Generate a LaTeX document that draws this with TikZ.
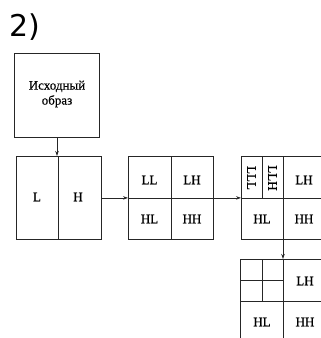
\documentclass[tikz,border=0pt]{standalone}
\usepackage{fontspec}
\setmainfont{Liberation Serif}
\newfontfamily\scanserif[FakeBold=0.6]{Liberation Serif}
\newfontfamily\labelsans{DejaVu Sans}
\usetikzlibrary{arrows.meta}
\begin{document}
\begin{tikzpicture}[x=1pt,y=-1pt,
  blk/.style={draw=black!85,line width=0.8pt,minimum width=85pt,minimum height=83pt,inner sep=0pt,anchor=north west},
  grid/.style={draw=black!85,line width=0.8pt},
  lab/.style={font=\scanserif\fontsize{13}{13}\selectfont,inner sep=0pt},
  conn/.style={draw=black!85,line width=0.8pt,-{Stealth[length=5pt,width=3.5pt]}}]
\useasboundingbox (0,0) rectangle (321,338);
\clip (0,0) rectangle (321,338);

\node[anchor=west,inner sep=0pt,font=\labelsans\fontsize{30}{30}\selectfont] (title) at (9,27) {2)};

% source image
\node[blk,minimum height=84pt] (src) at (14,53) {};
\node[lab,align=center] (srctxt) at (57,94) {Исходный\\[2pt]образ};

% first level: L | H
\node[blk] (b2) at (16,156) {};
\draw[grid] (58,156) -- (58,239);
\node[lab] (l) at (37,197) {L};
\node[lab] (h) at (78,197) {H};

% second level
\node[blk] (b3) at (128,156) {};
\draw[grid] (171,156) -- (171,239);
\draw[grid] (128,198) -- (213,198);
\node[lab] (ll3) at (149.5,180) {LL};
\node[lab] (lh3) at (192,180) {LH};
\node[lab] (hl3) at (149.5,219) {HL};
\node[lab] (hh3) at (192,219) {HH};

% third level
\node[blk] (b4) at (241,156) {};
\draw[grid] (283,156) -- (283,239);
\draw[grid] (241,198) -- (326,198);
\draw[grid] (262,156) -- (262,198);
\node[lab,rotate=-90] (lll) at (251.5,178) {LLL};
\node[lab,rotate=-90] (llh) at (272.5,178) {LLH};
\node[lab] (lh4) at (304,180) {LH};
\node[lab] (hl4) at (262,219) {HL};
\node[lab] (hh4) at (304,219) {HH};

% fourth level
\node[blk] (b5) at (240,259) {};
\draw[grid] (283,259) -- (283,342);
\draw[grid] (240,301) -- (325,301);
\draw[grid] (262,259) -- (262,301);
\draw[grid] (240,280) -- (283,280);
\node[lab] (lh5) at (305,281) {LH};
\node[lab] (hl5) at (262,322) {HL};
\node[lab] (hh5) at (305,322) {HH};

% connectors
\draw[conn] (src.south -| 57,0) -- (b2.north -| 57,0);
\draw[conn] (b2.east) -- (b3.west);
\draw[conn] (b3.east) -- (b4.west);
\draw[conn] (b4.south -| 283,0) -- (b5.north -| 283,0);
\end{tikzpicture}
\end{document}
